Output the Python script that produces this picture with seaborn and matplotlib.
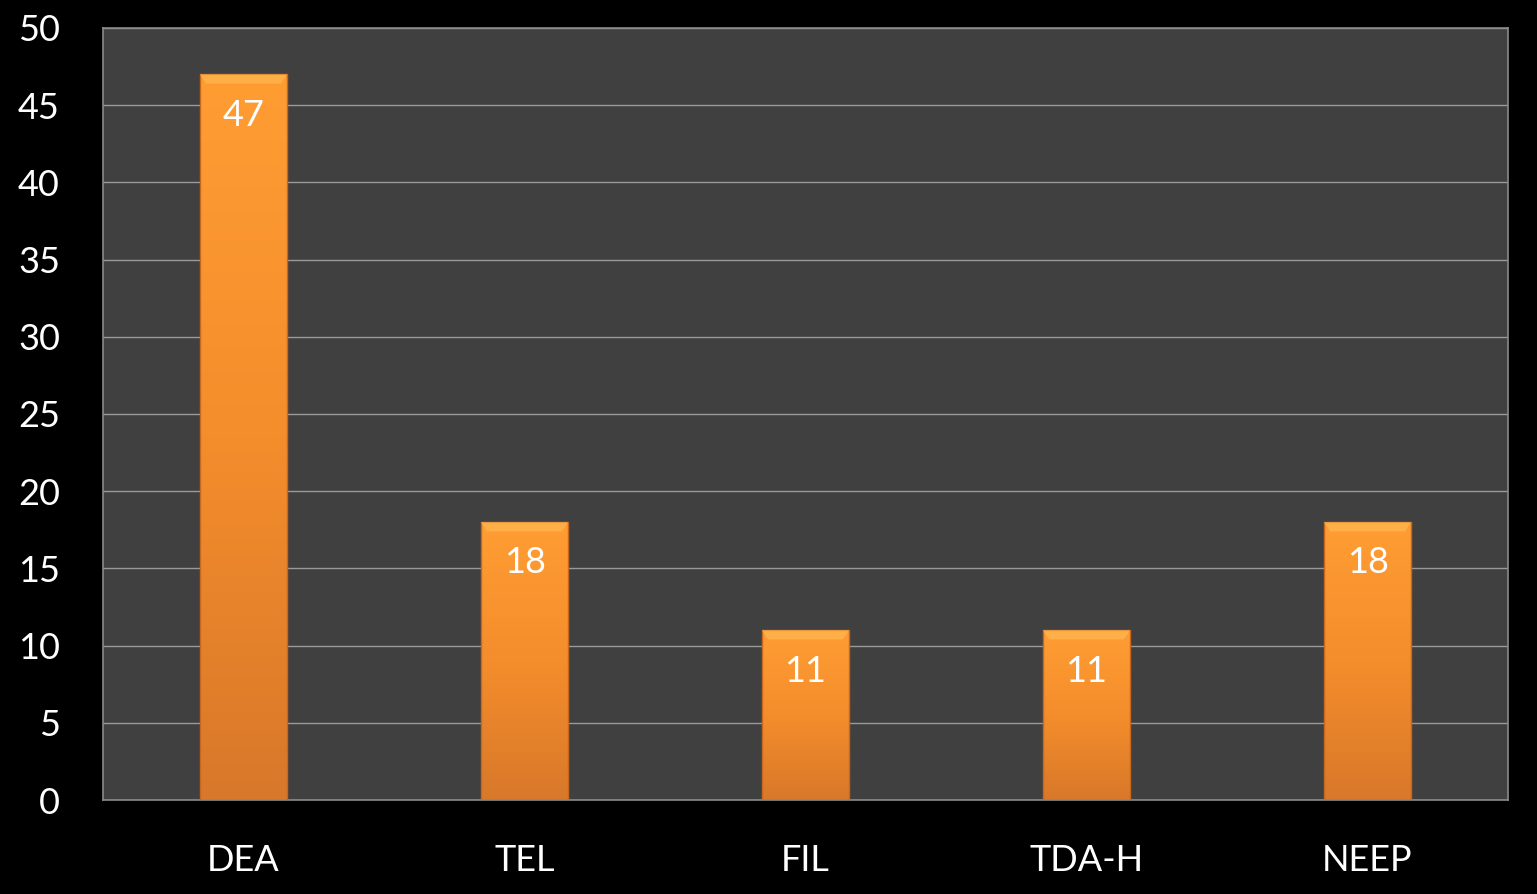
import numpy as np
import pandas as pd
import matplotlib
matplotlib.use('Agg')
import matplotlib.pyplot as plt
from matplotlib.colors import LinearSegmentedColormap
import seaborn as sns

# chart data
categories = ['DEA', 'TEL', 'FIL', 'TDA-H', 'NEEP']
counts = [47, 18, 11, 11, 18]
y_ticks = [0, 5, 10, 15, 20, 25, 30, 35, 40, 45, 50]

df = pd.DataFrame({'Category': categories, 'Count': counts})

sns.set_theme(style='dark')
plt.rcParams['font.family'] = ['Lato', 'DejaVu Sans']

fig = plt.figure(figsize=(15.37, 8.94), dpi=100, facecolor='black')
ax = fig.add_axes([103 / 1537, 1 - 800 / 894, 1405 / 1537, 772 / 894])
ax.set_facecolor('#404040')

ax = sns.barplot(data=df, x='Category', y='Count', color='#F28C28',
                 width=0.31, ax=ax, zorder=3)

# orange vertical gradient inside each bar
grad = LinearSegmentedColormap.from_list('orange', ['#D8782A', '#F48D2C', '#FF9D33'])
for p in ax.patches:
    x0, y0 = p.get_x(), p.get_y()
    w, h = p.get_width(), p.get_height()
    p.set_facecolor('none')
    p.set_edgecolor('#C8681E')
    p.set_linewidth(1.0)
    img = ax.imshow(np.linspace(0, 1, 256).reshape(-1, 1), cmap=grad, origin='lower',
                    extent=[x0, x0 + w, y0, y0 + h], aspect='auto', zorder=2.9)
    img.set_clip_path(p)
    # lighter bevel at the top
    ax.fill([x0, x0 + w, x0 + w * 0.93, x0 + w * 0.07], [h, h, h - 0.6, h - 0.6],
            color='#FFB850', alpha=0.7, zorder=3.1, lw=0)
    ax.text(x0 + w / 2, h - 2.65, f'{int(h)}', ha='center', va='center',
            color='white', fontsize=26, zorder=4)

ax.set_xlim(-0.5, 4.5)
ax.set_ylim(0, 50)
ax.set_yticks(y_ticks)
ax.grid(axis='y', color='#9A9A9A', linewidth=1.0, zorder=1)
ax.grid(axis='x', visible=False)
ax.set_axisbelow(True)
for s in ax.spines.values():
    s.set_visible(True)
    s.set_color('#8A8A8A')
    s.set_linewidth(1.2)

ax.tick_params(axis='both', colors='white', labelsize=26, length=0)
ax.tick_params(axis='y', pad=31)
ax.tick_params(axis='x', pad=32)
ax.set_xlabel('')
ax.set_ylabel('')

fig.savefig('out.png', dpi=100, facecolor='black')
